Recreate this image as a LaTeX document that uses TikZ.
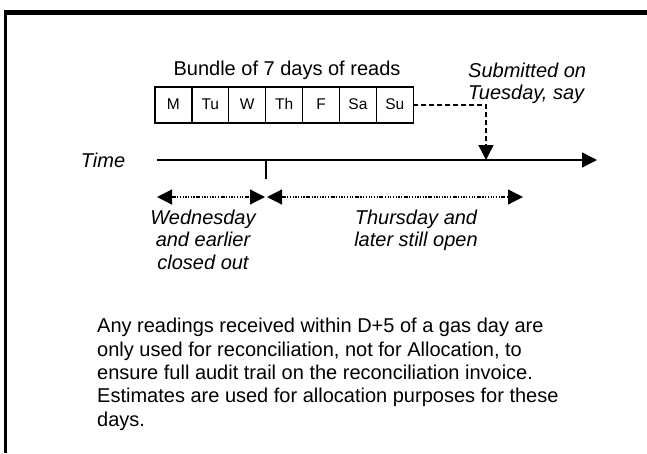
\documentclass[tikz,border=0pt]{standalone}
\usepackage{fontspec}
\setmainfont{Liberation Sans}
\usetikzlibrary{arrows.meta, positioning}
\tikzset{
        >={Triangle[length=15pt,width=15pt]}, % big filled heads
        x=1pt, y=-1pt, % one unit is one pixel, y runs down
        dashline/.style={dash pattern=on 5pt off 3pt},
        dotline/.style={dash pattern=on 4pt off 1.5pt on 1.2pt off 1.5pt on 1.2pt off 1.5pt on 1.2pt off 1.5pt on 1.2pt off 1.5pt on 1.2pt off 1.5pt on 1.2pt off 1.5pt on 1.2pt off 1.5pt},
    }
\tikzstyle{day}=[draw,line width=1.3pt,minimum width=36.9pt,minimum height=36pt,inner sep=0pt,outer sep=0pt,font=\fontsize{15.5}{18}\selectfont,text height=11pt,text depth=3pt]
\tikzstyle{lbl}=[inner sep=0pt,anchor=base,font=\fontsize{20}{23.3}\selectfont]
\tikzstyle{slant}=[lbl,font=\fontsize{20}{22.5}\selectfont\itshape,align=center]

\begin{document}
\begin{tikzpicture}
    \useasboundingbox (0,0) rectangle (647,453);
    % frame, only top and left edge show
    \draw[line width=5pt] (4,12.5) -- (647,12.5);
    \draw[line width=3pt] (5.5,10) -- (5.5,453);

    \node[lbl] (bundle) at (287,75) {Bundle of 7 days of reads};
    \node[day] (m) at (173.45,105) {M};
    \node[day, right=0pt of m] (tu) {Tu};
    \node[day, right=0pt of tu] (w) {W};
    \node[day, right=0pt of w] (th) {Th};
    \node[day, right=0pt of th] (f) {F};
    \node[day, right=0pt of f] (sa) {Sa};
    \node[day, right=0pt of sa] (su) {Su};
    % multi-line nodes: base is the last line
    \node[slant, anchor=base west, align=left] (sub) at (468,99.5) {Submitted on\\Tuesday, say};

    % time line
    \node[slant] (time) at (103,167) {Time};
    \coordinate (t0) at (157,160);
    \coordinate (t1) at (597,160);
    \coordinate (cut) at (266,160);
    \coordinate (cutend) at (266,179);
    \coordinate (tue) at (486,160);
    \draw[->, line width=1.5pt] (t0) -- (t1);
    \draw[line width=1.3pt] (cut) -- (cutend);
    \draw[->, dashline, line width=1.3pt] (su.east) -| (tue);

    % closed and open spans
    \coordinate (c0) at (157,197);
    \coordinate (c1) at (265,197);
    \coordinate (o0) at (267,197);
    \coordinate (o1) at (523,197);
    \draw[<->, dotline, line width=1.2pt] (c0) -- (c1);
    \draw[<->, dotline, line width=1.2pt] (o0) -- (o1);
    \node[slant] (closed) at (203,269) {Wednesday\\and earlier\\closed out};
    \node[slant] (open) at (416,246.7) {Thursday and\\later still open};

    \node[lbl, anchor=base west, align=left] (note) at (97,426) {Any readings received within D+5 of a gas day are\\only used for reconciliation, not for Allocation, to\\ensure full audit trail on the reconciliation invoice.\\Estimates are used for allocation purposes for these\\days.};
\end{tikzpicture}
\end{document}
